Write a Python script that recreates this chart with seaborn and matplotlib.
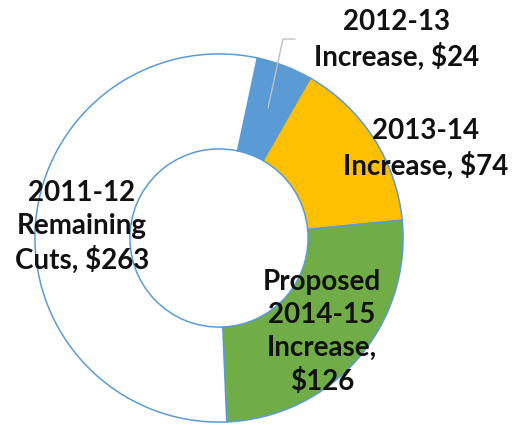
import matplotlib
matplotlib.use("Agg")
import matplotlib.pyplot as plt
import seaborn as sns
from matplotlib.lines import Line2D

sns.set_theme(style="white")
plt.rcParams['font.family'] = ['Lato', 'DejaVu Sans']

categories = ["2012-13 Increase", "2013-14 Increase", "Proposed 2014-15 Increase", "2011-12 Remaining Cuts"]
values = [24, 74, 126, 263]
labels = ["2012-13\nIncrease, $24", "2013-14\nIncrease, $74",
          "Proposed\n2014-15\nIncrease,\n$126", "2011-12\nRemaining\nCuts, $263"]
colors = ["#5B9BD5", "#FFC000", "#70AD47", "#FFFFFF"]

W, H = 517, 425
fig = plt.figure(figsize=(W / 100, H / 100), dpi=100)
fig.patch.set_facecolor("white")
cx, cy, r = 219, 238, 185
ax = fig.add_axes([(cx - r) / W, (H - cy - r) / H, 2 * r / W, 2 * r / H])
ax.pie(values, colors=colors, startangle=78, counterclock=False, radius=1,
       wedgeprops=dict(width=0.516, edgecolor="#5B9BD5", linewidth=1.1))
ax.set_xlim(-1.005, 1.005)
ax.set_ylim(-1.005, 1.005)
ax.set_aspect("equal")
ax.axis("off")

label_pos = [(397, 40), (426, 149), (322, 332), (82, 227)]
for txt, (x, y) in zip(labels, label_pos):
    fig.text(x / W, 1 - y / H, txt, ha="center", va="center", fontsize=20,
             fontweight="bold", color="#111111", linespacing=1.33)

lx = [295, 283, 268]
ly = [39, 39, 108]
fig.add_artist(Line2D([v / W for v in lx], [1 - v / H for v in ly],
                      color="#BFBFBF", linewidth=1.0))

fig.savefig("out.png", dpi=100, facecolor="white")
